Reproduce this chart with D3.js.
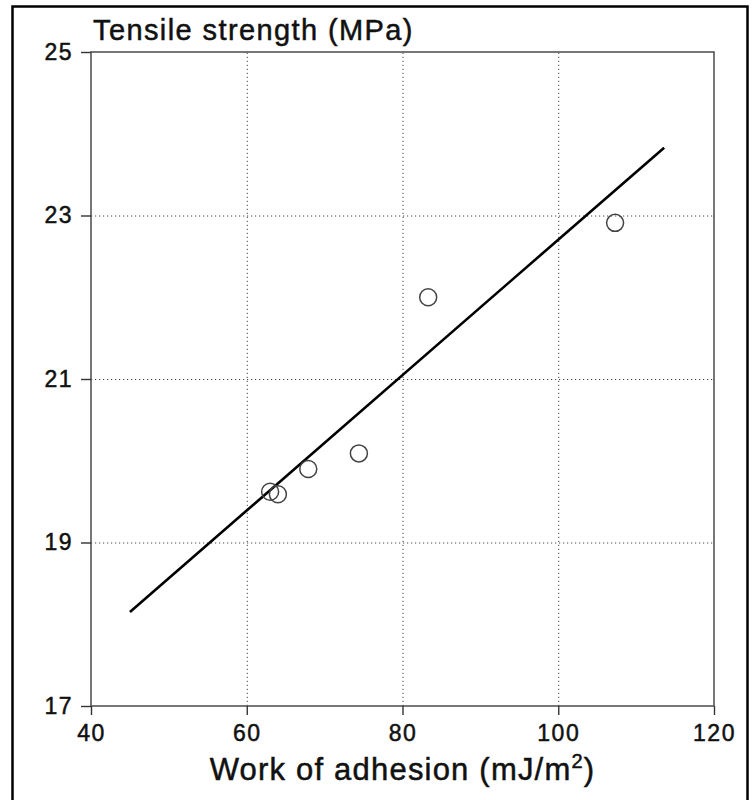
<!DOCTYPE html>
<html>
<head>
<meta charset="utf-8">
<script src="https://cdn.jsdelivr.net/npm/d3@7"></script>
<style>
  body { margin: 0; background: #fff; overflow: hidden; }
  svg { display: block; }
  text { font-family: "Liberation Sans", Arial, sans-serif; fill: #111; }
</style>
</head>
<body>
<div id="chart"></div>
<script>
// measured points
const workAdhesion = [63.0, 64.0, 67.9, 74.4, 83.3, 107.3];
const tensile = [19.62, 19.59, 19.90, 20.09, 22.00, 22.91];

// fitted line end points
const fitX = [45, 113.6];
const fitY = [18.15, 23.83];

const xTicks = [40, 60, 80, 100, 120];
const yTicks = [17, 19, 21, 23, 25];

var width = 752
var height = 800

var svg = d3.select("#chart").append("svg")
    .attr("width", width)
    .attr("height", height)

const margin = {top: 52, right: 38, bottom: 94, left: 91}
const innerWidth = width - margin.left - margin.right;
const innerHeight = height - margin.top - margin.bottom;

// outer frame, open at the bottom (it runs off the page)
svg.append("path")
    .attr("d", "M12.5,800 V6.5 H747.5 V800")
    .attr("fill", "none")
    .attr("stroke", "#000")
    .attr("stroke-width", 2.5)

const xScale = d3.scaleLinear()
    .domain([40, 120])
    .range([0, innerWidth]);

const yScale = d3.scaleLinear()
    .domain([17, 25])
    .range([innerHeight, 0]);

const g = svg.append("g")
    .attr("transform", `translate(${margin.left}, ${margin.top})`)

// dotted grid
const xGrid = d3.axisBottom(xScale).tickValues(xTicks.slice(1, -1))
    .tickSize(-innerHeight).tickFormat("");
const yGrid = d3.axisLeft(yScale).tickValues(yTicks.slice(1, -1))
    .tickSize(-innerWidth).tickFormat("");

g.append("g").attr("transform", `translate(0, ${innerHeight})`).call(xGrid)
    .call(a => a.select(".domain").remove())
    .selectAll("line").attr("stroke", "#444").attr("stroke-dasharray", "1.2,2.8");
g.append("g").call(yGrid)
    .call(a => a.select(".domain").remove())
    .selectAll("line").attr("stroke", "#444").attr("stroke-dasharray", "1.2,2.8");

// frame of the plot
g.append("rect")
    .attr("width", innerWidth)
    .attr("height", innerHeight)
    .attr("fill", "none")
    .attr("stroke", "#555")
    .attr("stroke-width", 1.6)

const xAxis = d3.axisBottom(xScale).tickValues(xTicks).tickSize(9).tickPadding(10);
const yAxis = d3.axisLeft(yScale).tickValues(yTicks).tickSize(10).tickPadding(8);

const styleTicks = sel => sel.selectAll("text")
    .attr("font-size", 23)
    .attr("letter-spacing", 1.5)
    .attr("font-family", "Liberation Sans, Arial, sans-serif")
    .attr("fill", "#111")
    .attr("stroke", "#111")
    .attr("stroke-width", 0.5);

const xAxisG = g.append("g").attr("transform", `translate(0, ${innerHeight})`).call(xAxis);
xAxisG.select(".domain").remove();
xAxisG.selectAll("line").attr("stroke", "#333").attr("stroke-width", 1.4);
styleTicks(xAxisG);

const yAxisG = g.append("g").call(yAxis);
yAxisG.select(".domain").remove();
yAxisG.selectAll("line").attr("stroke", "#333").attr("stroke-width", 1.4);
styleTicks(yAxisG);

// regression line
const fitData = fitX.map((x, i) => ({x: x, y: fitY[i]}));
g.append("path")
    .datum(fitData)
    .attr("d", d3.line().x(d => xScale(d.x)).y(d => yScale(d.y)))
    .attr("fill", "none")
    .attr("stroke", "#000")
    .attr("stroke-width", 2.6)

const points = workAdhesion.map((x, i) => ({x: x, y: tensile[i]}));
g.selectAll("circle").data(points)
    .enter().append("circle")
    .attr("cx", d => xScale(d.x))
    .attr("cy", d => yScale(d.y))
    .attr("r", 8.5)
    .attr("fill", "none")
    .attr("stroke", "#444")
    .attr("stroke-width", 1.5)

svg.append("text")
    .attr("x", 93)
    .attr("y", 40)
    .attr("font-size", 29)
    .attr("letter-spacing", 1.4)
    .attr("stroke", "#111")
    .attr("stroke-width", 0.5)
    .text("Tensile strength (MPa)")

const xTitle = svg.append("text")
    .attr("x", margin.left + xScale(80))
    .attr("y", 780)
    .attr("text-anchor", "middle")
    .attr("font-size", 31)
    .attr("letter-spacing", 1.2)
    .attr("stroke", "#111")
    .attr("stroke-width", 0.5)
xTitle.append("tspan").text("Work of adhesion (mJ/m")
xTitle.append("tspan").attr("font-size", 20).attr("dy", -12).text("2")
xTitle.append("tspan").attr("dy", 12).text(")")
</script>
</body>
</html>
